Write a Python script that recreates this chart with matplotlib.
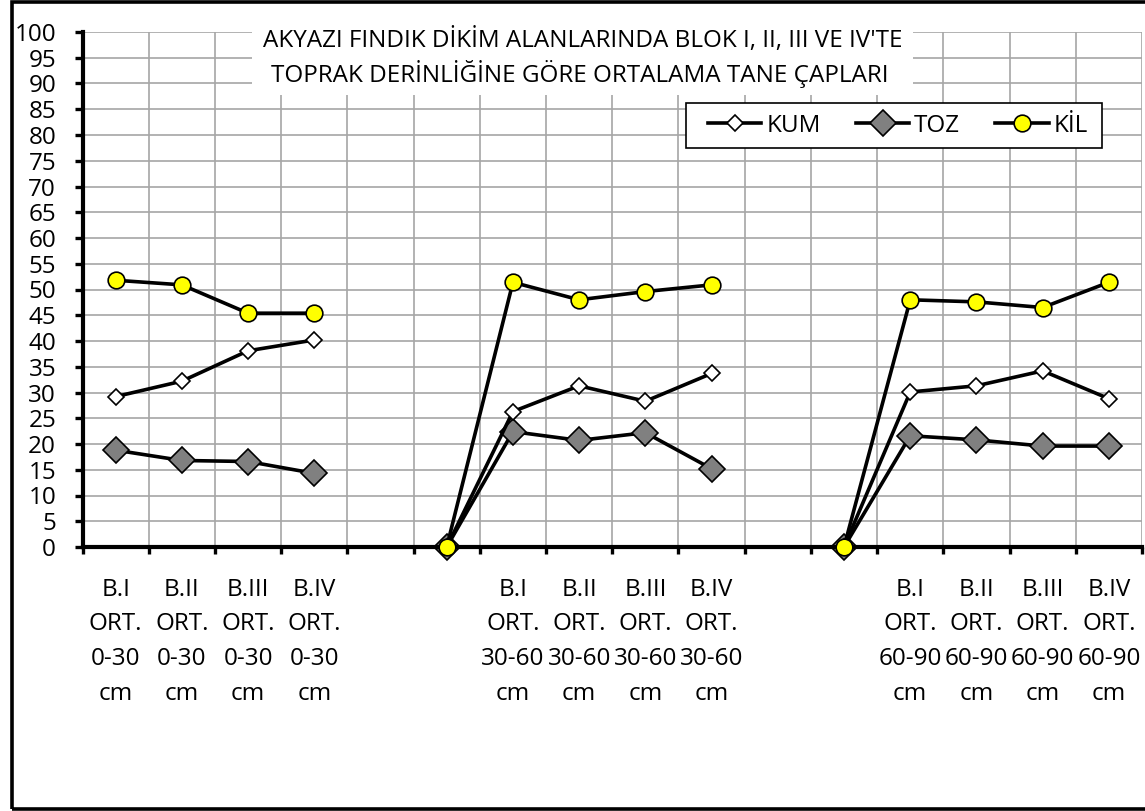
import numpy as np
import matplotlib
matplotlib.use("Agg")
import matplotlib.pyplot as plt
from matplotlib.patches import Rectangle
from matplotlib.lines import Line2D

plt.rcParams['font.family'] = ['Open Sans', 'DejaVu Sans']

# Category labels (blank slots separate the depth groups)
categories = [
    "B.I\nORT.\n0-30\ncm", "B.II\nORT.\n0-30\ncm", "B.III\nORT.\n0-30\ncm", "B.IV\nORT.\n0-30\ncm",
    "", "",
    "B.I\nORT.\n30-60\ncm", "B.II\nORT.\n30-60\ncm", "B.III\nORT.\n30-60\ncm", "B.IV\nORT.\n30-60\ncm",
    "", "",
    "B.I\nORT.\n60-90\ncm", "B.II\nORT.\n60-90\ncm", "B.III\nORT.\n60-90\ncm", "B.IV\nORT.\n60-90\ncm",
]

nan = np.nan
kum = [29.2, 32.2, 38.1, 40.2, nan, 0, 26.3, 31.3, 28.3, 33.7, nan, 0, 30.1, 31.3, 34.2, 28.8]
toz = [18.8, 16.8, 16.6, 14.3, nan, 0, 22.4, 20.7, 22.2, 15.2, nan, 0, 21.6, 20.8, 19.6, 19.6]
kil = [51.8, 50.9, 45.4, 45.4, nan, 0, 51.4, 48.0, 49.6, 50.9, nan, 0, 48.0, 47.6, 46.5, 51.4]

series_names = ["KUM", "TOZ", "KİL"]
title_lines = ["AKYAZI FINDIK DİKİM ALANLARINDA BLOK I, II, III VE IV'TE",
               "TOPRAK DERİNLİĞİNE GÖRE ORTALAMA TANE ÇAPLARI"]
yticks = list(range(0, 101, 5))

W, H = 1145, 811
FS = 17.5
fig = plt.figure(figsize=(W / 100, H / 100), dpi=100)

def fx(px):
    return px / W

def fy(py):
    return 1 - py / H

ax = fig.add_axes([fx(82.5), fy(547), fx(1142) - fx(82.5), fy(32) - fy(547)])

x = np.arange(len(categories))
lw = 2.6
ax.plot(x, toz, color="black", lw=lw, marker="D", markersize=13,
        markerfacecolor="#808080", markeredgecolor="black", markeredgewidth=1.2,
        zorder=3, clip_on=False)
ax.plot(x, kum, color="black", lw=lw, marker="D", markersize=8.5,
        markerfacecolor="white", markeredgecolor="black", markeredgewidth=1.2,
        zorder=4, clip_on=False)
ax.plot(x, kil, color="black", lw=lw, marker="o", markersize=12,
        markerfacecolor="#FFFF00", markeredgecolor="black", markeredgewidth=1.2,
        zorder=7, clip_on=False)

ax.set_xlim(-0.5, len(categories) - 0.5)
ax.set_ylim(0, 100)

# y axis
ax.set_yticks(yticks)
ax.set_yticklabels([str(v) for v in yticks])
ax.tick_params(axis="y", direction="out", length=6, width=2.4, pad=13,
               labelsize=FS, colors="black")

# x axis: labels at category centres, ticks/grid at category boundaries
ax.set_xticks(x)
ax.set_xticklabels(categories, linespacing=1.6)
ax.set_xticks(np.arange(-0.5, len(categories), 1.0), minor=True)
ax.tick_params(axis="x", which="major", length=0, pad=22, labelsize=FS)
ax.tick_params(axis="x", which="minor", direction="out", length=5, width=2.4)

ax.grid(True, axis="y", which="major", color="#a6a6a6", lw=1.2, zorder=0)
ax.grid(True, axis="x", which="minor", color="#a6a6a6", lw=1.2, zorder=0)
ax.set_axisbelow(True)

for s in ["top", "right"]:
    ax.spines[s].set_visible(False)
for s in ["left", "bottom"]:
    ax.spines[s].set_linewidth(3)
    ax.spines[s].set_color("black")
    ax.spines[s].set_zorder(6)

# title panel (white block over the gridlines)
fig.patches.append(Rectangle((fx(252), fy(95)), fx(913) - fx(252), fy(18) - fy(95),
                             transform=fig.transFigure, facecolor="white",
                             edgecolor="none", zorder=2))
fig.text(fx(583), fy(41), title_lines[0], ha="center", va="center", fontsize=FS, zorder=3)
fig.text(fx(580), fy(74), title_lines[1], ha="center", va="center", fontsize=FS, zorder=3)

# legend panel
legend_box = Rectangle((fx(686), fy(148)), fx(1102) - fx(686), fy(103) - fy(148),
                       transform=fig.transFigure, facecolor="white", edgecolor="black",
                       lw=1.2, zorder=2)
fig.patches.append(legend_box)
handles = [
    Line2D([], [], color="black", lw=lw, marker="D", markersize=8.5,
           markerfacecolor="white", markeredgecolor="black", markeredgewidth=1.2),
    Line2D([], [], color="black", lw=lw, marker="D", markersize=13,
           markerfacecolor="#808080", markeredgecolor="black", markeredgewidth=1.2),
    Line2D([], [], color="black", lw=lw, marker="o", markersize=12,
           markerfacecolor="#FFFF00", markeredgecolor="black", markeredgewidth=1.2),
]
leg = fig.legend(handles, series_names, loc="center", ncol=3, frameon=False,
                 bbox_to_anchor=(fx(898), fy(126)), fontsize=FS,
                 handlelength=2.2, handletextpad=0.2, columnspacing=1.45,
                 borderaxespad=0, borderpad=0)
leg.set_zorder(3)

# chart border
fig.patches.append(Rectangle((fx(11.5), fy(808.5)), fx(1150) - fx(11.5), fy(1.5) - fy(808.5),
                             transform=fig.transFigure, facecolor="none",
                             edgecolor="black", lw=2.6, zorder=10))

fig.savefig("out.png", dpi=100, facecolor="white")
